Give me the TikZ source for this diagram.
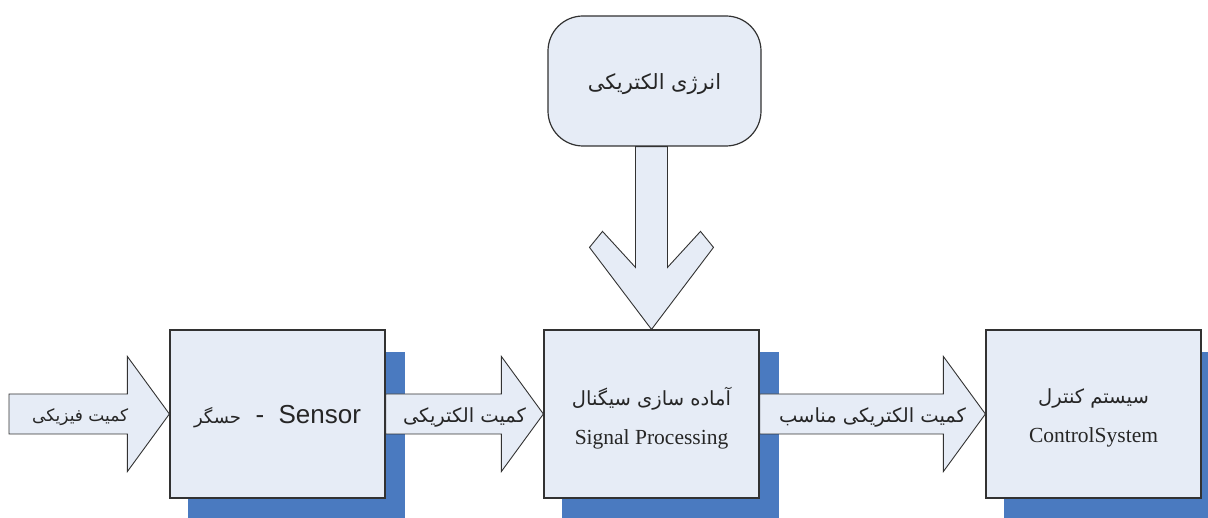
\documentclass[tikz,border=0pt]{standalone}
\usepackage{fontspec}
\setmainfont{Liberation Serif}
\newfontfamily\arialfont{Liberation Sans}
\newfontfamily\fa[Script=Arabic]{DejaVu Sans}
\TeXXeTstate=1
\usetikzlibrary{calc}
\definecolor{boxfill}{RGB}{230,236,246}
\definecolor{shadowblue}{RGB}{74,122,192}
\definecolor{edgegray}{RGB}{50,50,50}
\pgfdeclarelayer{bglayer}
\pgfdeclarelayer{midlayer}
\pgfsetlayers{bglayer,midlayer,main}
\newcommand\hblockarrow[2]{%
  \draw[blockarrow] ($(#1)+(0,-20)$) -- ($(#2)+(-42,-20)$) -- ($(#2)+(-42,-57.5)$) -- (#2)
    -- ($(#2)+(-42,57.5)$) -- ($(#2)+(-42,20)$) -- ($(#1)+(0,20)$) -- cycle;}
\newcommand\boxshadow[1]{%
  \fill[shadowblue] ($(#1.north west)+(19,23)$) rectangle ($(#1.south east)+(19,23)$);}
\begin{document}
\begin{tikzpicture}[x=1pt,y=-1pt,
  block/.style={draw=edgegray, line width=1.2pt, fill=boxfill, minimum width=215pt,
    minimum height=168pt, inner sep=0pt, align=center, text=black!85},
  blockarrow/.style={draw=edgegray, line width=0.9pt, fill=boxfill, line join=miter},
  fatext/.style={font=\fa\fontsize{19.5}{22}\selectfont, text=black!85, inner sep=0pt},
  boxtext/.style={align=center, text=black!85, inner sep=0pt},
]
\useasboundingbox (0,0) rectangle (1208,518);

\node[block, rounded corners=35pt, minimum width=213pt, minimum height=130pt,
  label={[boxtext, yshift=-3pt, font=\fa\fontsize{21}{24}\selectfont]center:{\beginR انرژی الکتریکی\endR}}]
  (energy) at (654.5,81) {};

\node[block,
  label={[boxtext, yshift=-3pt, font=\arialfont\fontsize{26}{30}\selectfont]center:{{\fa\fontsize{18}{22}\selectfont\beginR حسگر\endR}\ \ -\ \ Sensor}}]
  (sensor) at (277.5,414) {};

\node[block,
  label={[boxtext, yshift=-4pt, font=\fontsize{21.5}{39}\selectfont]center:{{\fa\fontsize{19.5}{39}\selectfont\beginR آماده سازی سیگنال\endR}\\Signal Processing}}]
  (signal) at (651.5,414) {};

\node[block,
  label={[boxtext, yshift=-4pt, font=\fontsize{21.5}{39}\selectfont]center:{{\fa\fontsize{19.5}{39}\selectfont\beginR سیستم کنترل\endR}\\ControlSystem}}]
  (control) at (1093.5,414) {};

\coordinate (in) at (9,414);
\coordinate (dtop) at (energy.south -| signal.north);

\begin{pgfonlayer}{bglayer}
  \boxshadow{sensor}
  \boxshadow{signal}
  \boxshadow{control}
\end{pgfonlayer}

\begin{pgfonlayer}{midlayer}
  \hblockarrow{in}{sensor.west}
  \hblockarrow{sensor.east}{signal.west}
  \hblockarrow{signal.east}{control.west}
  \draw[blockarrow] ($(dtop)+(-16,0)$) -- ($(signal.north)+(-16,-62)$)
    -- ($(signal.north)+(-49,-98)$) -- ($(signal.north)+(-62,-82)$) -- (signal.north)
    -- ($(signal.north)+(62,-82)$) -- ($(signal.north)+(49,-98)$)
    -- ($(signal.north)+(16,-62)$) -- ($(dtop)+(16,0)$) -- cycle;
\end{pgfonlayer}

\node[fatext, font=\fa\fontsize{17}{20}\selectfont] (lin) at ($(in)!0.5!(sensor.west)+(-9,3)$) {\beginR کمیت فیزیکی\endR};
\node[fatext] (lsens) at ($(sensor.east)!0.5!(signal.west)+(0,3)$) {\beginR کمیت الکتریکی\endR};
\node[fatext] (lsig) at ($(signal.east)!0.5!(control.west)+(0,3)$) {\beginR کمیت الکتریکی مناسب\endR};
\end{tikzpicture}
\end{document}
